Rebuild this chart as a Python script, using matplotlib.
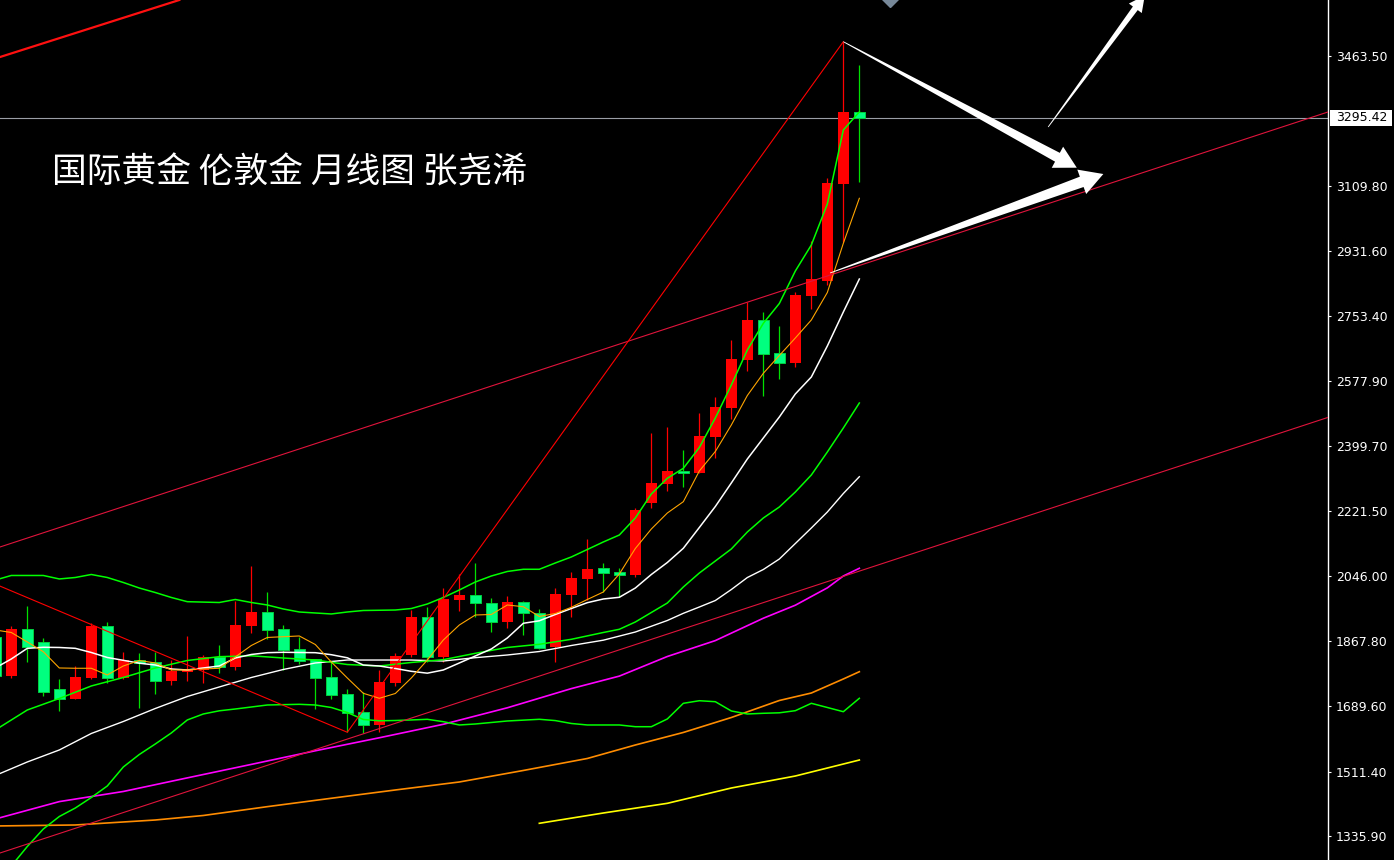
import numpy as np
import matplotlib
matplotlib.use("Agg")
import matplotlib.pyplot as plt
from matplotlib.patches import Polygon, Rectangle
from matplotlib.transforms import IdentityTransform, blended_transform_factory

# monthly candles, index 0 = Dec 2020 (index -1 is cut by the left edge)
idx = np.arange(-1, 54)
opens = [1880, 1772.3, 1900.5, 1865.1, 1736.9, 1710.4, 1767.7, 1908.7, 1767.7, 1815.9,
         1810.5, 1759.5, 1783.2, 1788.7, 1825.0, 1797.7, 1909.5, 1947.7, 1900.5, 1845.9,
         1817.8, 1769.6, 1723.2, 1674.2, 1639.5, 1754.0, 1829.6, 1933.3, 1825.0, 1979.6,
         1992.5, 1970.6, 1920.4, 1974.1, 1943.3, 1852.2, 1993.2, 2036.9, 2066.1, 2056.0,
         2047.8, 2245.0, 2296.9, 2331.5, 2326.8, 2424.2, 2504.1, 2634.3, 2743.4, 2654.2,
         2626.9, 2809.7, 2850.6, 3114.4, 3310.5]
highs = [1965, 1909.5, 1964.1, 1876.0, 1764.1, 1799.6, 1916.0, 1920.4, 1837.8, 1834.2,
         1837.8, 1815.9, 1881.5, 1829.6, 1856.9, 1977.7, 2073.2, 2001.4, 1911.4, 1879.5,
         1820.0, 1811.3, 1736.9, 1727.9, 1788.7, 1834.2, 1952.4, 1961.3, 2011.5, 2050.6,
         2079.7, 1984.2, 1990.5, 1976.0, 1954.3, 2011.5, 2056.0, 2145.2, 2079.7, 2066.1,
         2229.7, 2436.0, 2452.3, 2388.8, 2488.9, 2534.2, 2688.8, 2793.3, 2764.4, 2727.8,
         2820.6, 2959.7, 3131.5, 3502.5, 3439.0]
lows = [1764, 1766.8, 1811.3, 1717.8, 1677.7, 1708.8, 1764.1, 1752.4, 1765.0, 1685.8,
        1723.2, 1747.8, 1758.7, 1754.0, 1781.3, 1788.7, 1890.4, 1873.2, 1788.7, 1805.0,
        1682.3, 1710.4, 1618.8, 1616.9, 1618.8, 1745.0, 1825.0, 1811.3, 1811.3, 1950.4,
        1934.1, 1893.2, 1904.0, 1884.2, 1845.1, 1811.3, 1934.1, 1979.6, 2002.2, 1988.6,
        2041.5, 2229.7, 2277.8, 2288.7, 2325.0, 2366.1, 2472.5, 2605.1, 2536.9, 2582.4,
        2616.0, 2772.6, 2838.8, 2956.9, 3120.6]
closes = [1773, 1900.5, 1852.2, 1729.5, 1710.4, 1769.6, 1909.5, 1767.7, 1815.9, 1808.6,
          1759.5, 1786.0, 1791.4, 1823.3, 1796.1, 1911.4, 1947.7, 1897.8, 1843.2, 1814.0,
          1767.7, 1720.5, 1672.2, 1639.5, 1756.8, 1826.9, 1933.3, 1825.0, 1982.4, 1992.5,
          1970.6, 1920.4, 1974.1, 1943.3, 1849.5, 1995.9, 2039.6, 2063.4, 2054.1, 2048.6,
          2225.1, 2297.9, 2331.5, 2326.8, 2427.0, 2506.9, 2637.0, 2743.4, 2649.8, 2626.9,
          2811.6, 2854.4, 3117.9, 3311.6, 3295.42]
last_price = 3295.42

# moving averages
ma5 = [1897.8, 1891.0, 1865.1, 1838.6, 1794.2, 1793.4, 1793.4, 1775.1, 1799.6, 1814.6,
       1807.8, 1788.7, 1788.7, 1791.4, 1793.4, 1824.2, 1855.5, 1877.4, 1879.5, 1881.5,
       1858.2, 1810.5, 1766.9, 1725.1, 1711.5, 1724.6, 1766.9, 1815.9, 1870.5, 1911.4,
       1938.7, 1940.1, 1966.0, 1961.3, 1934.6, 1942.8, 1959.7, 1981.0, 2001.4, 2050.5,
       2120.1, 2173.3, 2216.9, 2247.8, 2331.5, 2384.7, 2457.0, 2537.4, 2598.0, 2646.5,
       2694.3, 2743.4, 2818.4, 2952.6, 3075.4]
ma10 = [1794.2, 1818.7, 1847.8, 1850.6, 1850.1, 1847.8, 1836.4, 1822.8, 1815.1, 1807.2,
        1802.3, 1791.4, 1788.7, 1794.2, 1799.6, 1821.4, 1831.0, 1835.9, 1837.0, 1836.4,
        1835.9, 1830.4, 1822.0, 1802.3, 1799.6, 1792.8, 1785.1, 1780.0, 1788.7, 1807.8,
        1826.9, 1846.0, 1876.0, 1916.1, 1922.9, 1940.1, 1956.4, 1972.3, 1982.4, 1987.0,
        2012.3, 2049.2, 2081.9, 2120.7, 2177.4, 2234.7, 2298.8, 2364.2, 2421.5, 2478.8,
        2541.6, 2587.9, 2672.5, 2765.2, 2855.2]

mid_idx = [-1, 1, 3, 5, 7, 9, 11, 13, 15, 17, 19, 21, 23, 25, 27, 29, 31, 33, 35, 37,
           38, 39, 40, 41, 42, 43, 44, 45, 46, 47, 48, 49, 50, 51, 52, 53]
mid_val = [1625.0, 1679.6, 1711.0, 1745.1, 1768.2, 1794.2, 1814.6, 1825.0, 1827.4, 1821.4,
           1815.9, 1803.6, 1799.6, 1809.2, 1816.8, 1834.2, 1850.1, 1858.8, 1872.4, 1891.0,
           1899.7, 1919.6, 1945.5, 1971.4, 2015.1, 2053.2, 2086.0, 2118.8, 2165.1, 2203.3,
           2233.3, 2274.2, 2320.6, 2383.3, 2448.8, 2517.0]

up_idx = [-1, 0, 2, 3, 4, 5, 6, 7, 8, 9, 10, 11, 13, 14, 15, 16, 17, 18, 20, 21, 22,
          24, 25, 26, 27, 28, 29, 30, 31, 32, 33, 34, 35, 36, 37, 38, 39, 40, 41, 42, 43,
          44, 45, 46, 47, 48, 49, 50, 51, 52, 53]
up_val = [2034, 2046.5, 2046.5, 2037, 2041, 2049.2, 2041, 2027.4, 2012.3, 2000.0, 1986.5,
          1975, 1972.8, 1981.0, 1972.8, 1966.0, 1955.1, 1946.9, 1941.5, 1946.9, 1951.0,
          1952.3, 1956.4, 1968.7, 1986.5, 2006.9, 2028.7, 2045.1, 2057.4, 2063.4, 2063.4,
          2080.6, 2097.0, 2117.4, 2137.9, 2156.9, 2203.3, 2268.8, 2311.6, 2338.8, 2395.6,
          2476.1, 2566.1, 2661.6, 2734.4, 2788.4, 2877.0, 2948.0, 3059.8, 3261.7, 3310.8]

lo_idx = [0, 1, 2, 3, 4, 5, 6, 7, 8, 9, 10, 11, 12, 13, 14, 16, 18, 19, 20, 21, 22, 23,
          24, 25, 26, 27, 28, 29, 31, 33, 34, 35, 36, 37, 38, 39, 40, 41, 42, 43, 44, 45,
          46, 47, 48, 49, 50, 51, 52, 53]
lo_val = [1254.0, 1307.2, 1354.9, 1389.0, 1412.2, 1440.9, 1472.3, 1524.1, 1558.2, 1586.9,
          1616.9, 1652.4, 1668.7, 1677.4, 1682.3, 1693.2, 1695.1, 1693.2, 1686.4, 1672.8,
          1653.7, 1650.1, 1650.9, 1652.4, 1654.2, 1647.7, 1638.7, 1641.4, 1649.6, 1654.2,
          1650.7, 1642.8, 1638.7, 1638.7, 1638.7, 1634.0, 1634.0, 1655.1, 1697.8, 1704.9,
          1702.2, 1676.9, 1668.7, 1670.6, 1671.9, 1677.7, 1697.8, 1686.4, 1674.9, 1711.5]

ma30_idx = [-1, 1, 3, 5, 7, 9, 11, 13, 15, 17, 19, 21, 23, 25, 27, 29, 31, 33, 35, 37,
            39, 41, 42, 43, 44, 45, 46, 47, 48, 49, 50, 51, 52, 53]
ma30_val = [1500.9, 1537.8, 1570.5, 1615.5, 1648.2, 1683.7, 1716.4, 1742.4, 1768.2, 1790.1,
            1807.8, 1815.9, 1815.9, 1815.9, 1813.2, 1822.3, 1829.6, 1839.1, 1855.5, 1870.0,
            1892.3, 1923.7, 1943.3, 1960.5, 1978.2, 2008.2, 2040.9, 2062.8, 2091.4, 2133.7,
            2176.0, 2219.6, 2270.1, 2315.9]

ma60_idx = [-1, 3, 7, 11, 15, 19, 23, 27, 31, 35, 38, 41, 44, 47, 49, 50, 51, 52, 53]
ma60_val = [1382.2, 1429.7, 1457.3, 1494.4, 1531.2, 1568.3, 1603.8, 1640.6, 1685.6, 1737.9,
            1772.0, 1825.5, 1868.9, 1929.9, 1965.4, 1989.1, 2012.7, 2045.1, 2066.1]

ma120_idx = [-1, 4, 6, 9, 12, 16, 20, 24, 28, 32, 36, 39, 42, 45, 48, 50, 52, 53]
ma120_val = [1363.2, 1365.9, 1371.4, 1379.5, 1391.8, 1415.9, 1438.8, 1461.4, 1483.2, 1514.6,
             1547.3, 1584.1, 1618.3, 1659.1, 1705.5, 1725.9, 1764.2, 1784.0]

ma250_idx = [33, 37, 41, 45, 49, 51, 53]
ma250_val = [1370.5, 1398.6, 1425.0, 1466.8, 1499.5, 1521.3, 1543.1]

# drawn objects (index, price)
zigzag_idx = [-4, 21, 52]
zigzag_val = [2078, 1618.8, 3502.5]
chan_up = [(-0.706, 2124.2), (82.29, 3310.8)]
chan_lo = [(-0.706, 1289.5), (82.29, 2477.7)]
chan_top = [(-0.706, 3460.7), (10.5, 3616.25)]
arrows = [((52, 3502.5), (66.59, 3158.8), 10, 24, 22),
          ((51.17, 2871.6), (68.25, 3141.6), 11, 26, 23),
          ((64.8, 3269.8), (70.84, 3628.8), 6, 16, 16)]
marker_pt = (54.9, 3618)

yticks = [3463.50, 3109.80, 2931.60, 2753.40, 2577.90, 2399.70, 2221.50,
          2046.00, 1867.80, 1689.60, 1511.40, 1335.90]

title = "国际黄金 伦敦金 月线图 张尧浠"

W, H = 1394, 860
fig = plt.figure(figsize=(W / 100, H / 100), dpi=100, facecolor="black")
ax = fig.add_axes([0, 0, 1328 / W, 1])
ax.set_facecolor("black")
ax.set_xlim(-0.706, 82.29)
ax.set_ylim(1270.4, 3616.25)

o = np.array(opens); h = np.array(highs); l = np.array(lows); c = np.array(closes)
up = c >= o
dn = ~up
bw = 0.69

ax.axhline(last_price, color="#9a9ea6", lw=0.8, zorder=1)

ax.vlines(idx[up], l[up], h[up], color="#ff0000", lw=0.9, zorder=2)
ax.vlines(idx[dn], l[dn], h[dn], color="#00e000", lw=0.9, zorder=2)
ax.bar(idx[up], np.maximum(c[up] - o[up], 4), bottom=o[up], width=bw,
       color="#ff0000", lw=0, zorder=3)
ax.bar(idx[dn], np.maximum(o[dn] - c[dn], 4), bottom=c[dn], width=bw,
       facecolor="#00ff7f", edgecolor="#00d040", lw=0.7, zorder=3)

ax.plot(ma250_idx, ma250_val, color="#ffff00", lw=1.2, zorder=4)
ax.plot(ma120_idx, ma120_val, color="#ff8c00", lw=1.2, zorder=4)
ax.plot(ma60_idx, ma60_val, color="#ff00ff", lw=1.2, zorder=4)
ax.plot(ma30_idx, ma30_val, color="white", lw=1.0, zorder=4)
ax.plot(lo_idx, lo_val, color="#00ff00", lw=1.1, zorder=4)
ax.plot(mid_idx, mid_val, color="#00ff00", lw=1.1, zorder=4)
ax.plot(up_idx, up_val, color="#00ff00", lw=1.1, zorder=4)
ax.plot(idx, ma10, color="white", lw=1.1, zorder=4)
ax.plot(idx, ma5, color="#ffa500", lw=0.8, zorder=4)

ax.axline(*chan_up, color="#e0143c", lw=0.8, zorder=5)
ax.axline(*chan_lo, color="#e0143c", lw=0.8, zorder=5)
ax.axline(*chan_top, color="#ff1010", lw=1.6, zorder=5)
ax.plot(zigzag_idx, zigzag_val, color="#ff0000", lw=0.8, zorder=5)

ax.plot(*marker_pt, marker="D", ms=8, color="#778899", zorder=6)

# tapered white arrows, built in pixel space
for start, tip, shaft_w, head_w, head_len in arrows:
    p0 = ax.transData.transform(start)
    p1 = ax.transData.transform(tip)
    d = p1 - p0
    u = d / np.hypot(*d)
    n = np.array([-u[1], u[0]])
    base = p1 - u * head_len
    pts = [p0 + n * 0.4, base + n * shaft_w / 2, base + n * head_w / 2, p1,
           base - n * head_w / 2, base - n * shaft_w / 2, p0 - n * 0.4]
    ax.add_patch(Polygon(pts, closed=True, transform=IdentityTransform(),
                         facecolor="white", edgecolor="none", zorder=7))

ax.set_xticks([])
ax.yaxis.tick_right()
ax.set_yticks(yticks)
ax.set_yticklabels([f"{v:.2f}" for v in yticks])
ax.tick_params(axis="y", colors="white", labelcolor="white", labelsize=9,
               length=2.5, width=0.8, direction="out", pad=3)
for s in ["left", "top", "bottom"]:
    ax.spines[s].set_visible(False)
ax.spines["right"].set_color("white")
ax.spines["right"].set_linewidth(1.0)

trans = blended_transform_factory(ax.transAxes, ax.transData)
ax.add_patch(Rectangle((1 + 2 / 1328, last_price - 21.8), 62 / 1328, 43.6,
                       transform=trans, facecolor="white", edgecolor="none",
                       clip_on=False, zorder=8))
ax.text(1 + 8 / 1328, last_price, f"{last_price:.2f}", transform=trans,
        ha="left", va="center", fontsize=9, color="black", clip_on=False, zorder=9)

fig.text(52 / W, 1 - 173 / H, title, color="white", fontsize=25,
         family=["Noto Sans CJK SC", "DejaVu Sans"], ha="left", va="center")

fig.savefig("out.png", dpi=100, facecolor="black")
